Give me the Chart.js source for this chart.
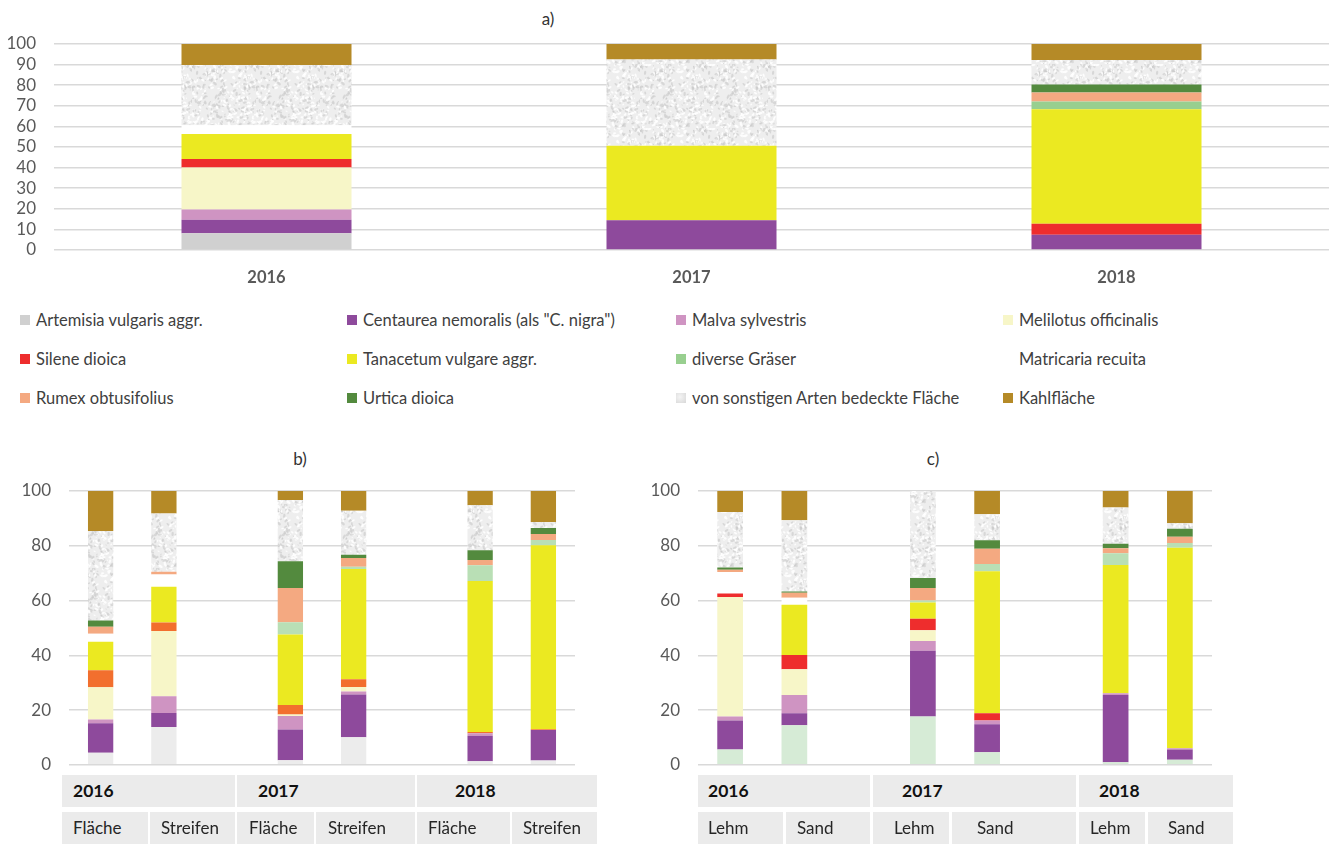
<!DOCTYPE html>
<html>
<head>
<meta charset="utf-8">
<script src="https://cdn.jsdelivr.net/npm/chart.js@4.4.1/dist/chart.umd.min.js"></script>
<style>
  body { margin: 0; background: #fff; font-family: Lato, "Open Sans", sans-serif; }
  #page { position: relative; width: 1336px; height: 845px; overflow: hidden; }
  canvas { position: absolute; }
  .title { position: absolute; font-size: 17px; color: #333; transform: translate(-50%, -50%); }
  .lm { position: absolute; width: 10px; height: 10px; }
  .lt { position: absolute; font-size: 16.5px; color: #404040; white-space: nowrap; transform: translateY(-50%); }
  .cell { position: absolute; background: #ebebeb; font-size: 17px; color: #262626; line-height: 32px; white-space: nowrap; box-sizing: border-box; }
  .cell.yr { font-weight: bold; color: #111; font-size: 17.5px; }
</style>
</head>
<body>
<div id="page">
  <div class="title" style="left:548px;top:18px">a)</div>
  <div class="title" style="left:300px;top:458px">b)</div>
  <div class="title" style="left:933px;top:458px">c)</div>
  <canvas id="chartA" width="1336" height="300" style="left:0;top:0"></canvas>
  <canvas id="chartB" width="620" height="353" style="left:0;top:440px"></canvas>
  <canvas id="chartC" width="716" height="353" style="left:620px;top:440px"></canvas>
  <div id="legend"></div>
  <div id="tables"></div>
</div>
<script>
// species, in stacking order (bottom -> top)
const species = [
  'Artemisia vulgaris aggr.', 'Centaurea nemoralis (als "C. nigra")', 'Malva sylvestris',
  'Melilotus officinalis', 'Silene dioica', 'Tanacetum vulgare aggr.', 'diverse Gräser',
  'Matricaria recuita', 'Rumex obtusifolius', 'Urtica dioica',
  'von sonstigen Arten bedeckte Fläche', 'Kahlfläche'
];

// a) years
const yearsA = ['2016', '2017', '2018'];
const a2016 = [8.1, 6.6, 4.9, 20.5, 4.1, 12.1, 0, 4.2, 0, 0, 29.3, 10.2];
const a2017 = [0, 14.4, 0, 0, 0, 36.2, 0, 0, 0, 0, 41.9, 7.5];
const a2018 = [0, 7.4, 0, 0, 5.4, 55.5, 3.8, 0, 4.3, 3.9, 11.9, 7.8];

// b) Fläche / Streifen
const yearsBC = ['2016', '2017', '2018'];
const subB = ['Fläche', 'Streifen'];
const b2016F = [4.4, 10.8, 1.3, 11.8, 6.2, 10.4, 0, 3.0, 2.5, 2.3, 32.7, 14.6];
const b2016S = [13.8, 5.1, 6.1, 23.9, 3.1, 13.0, 0, 4.5, 1.0, 0, 21.3, 8.2];
const b2017F = [1.7, 11.2, 4.9, 0.6, 3.4, 25.8, 4.5, 0, 12.5, 9.7, 22.4, 3.3];
const b2017S = [10.1, 15.6, 1.1, 1.6, 2.8, 40.3, 0.8, 0, 3.2, 1.2, 16.1, 7.2];
const b2018F = [1.3, 9.3, 0.9, 0, 0.5, 55.1, 5.8, 0, 1.9, 3.6, 16.4, 5.2];
const b2018S = [1.6, 11.1, 0, 0, 0.3, 67.2, 1.9, 0, 2.2, 2.2, 2.2, 11.3];

// c) Lehm / Sand
const subC = ['Lehm', 'Sand'];
const c2016L = [5.6, 10.6, 1.4, 43.7, 1.3, 0, 0, 7.8, 0.8, 0.9, 20.2, 7.7];
const c2016S = [14.4, 4.4, 6.7, 9.4, 5.2, 18.4, 0, 2.5, 1.8, 0.5, 26.0, 10.7];
const c2017L = [17.6, 24.1, 3.5, 3.9, 4.2, 6.0, 0.7, 0, 4.6, 3.6, 31.8, 0];
const c2017S = [4.6, 10.2, 1.4, 0, 2.6, 51.9, 2.6, 0, 5.6, 3.1, 9.5, 8.5];
const c2018L = [0.9, 24.6, 0.6, 0, 0, 46.9, 4.3, 0, 1.8, 1.6, 13.3, 6.0];
const c2018S = [1.8, 3.8, 0.4, 0, 0, 73.3, 1.7, 0, 2.3, 2.9, 2.0, 11.8];

// colours ('TEX' = speckled texture)
const colorsA = ['#d0d0d0', '#8e4a9c', '#cf94c2', '#f7f6c8', '#ee2d2d', '#ebe921', '#98cf8f',
  '#ffffff', '#f4a981', '#538a3e', 'TEX', '#b58a27'];
const colorsB = ['#ececec', '#8e4a9c', '#cf94c2', '#f7f6c8', '#f26f2e', '#ebe921', '#b9dfb5',
  '#ffffff', '#f4a981', '#538a3e', 'TEX', '#b58a27'];
const colorsC = ['#d6ebd6', '#8e4a9c', '#cf94c2', '#f7f6c8', '#ee2d2d', '#ebe921', '#b9dfb5',
  '#ffffff', '#f4a981', '#538a3e', 'TEX', '#b58a27'];

function texture(ctx) {
  const c = document.createElement('canvas');
  c.width = 64; c.height = 64;
  const g = c.getContext('2d');
  g.fillStyle = '#eeeeee';
  g.fillRect(0, 0, 64, 64);
  let s = 11;
  const next = () => { s = (s * 9301 + 49297) % 233280; return s / 233280; };
  for (let i = 0; i < 420; i++) {
    const x = next() * 64, y = next() * 64, r = 0.4 + next() * 0.9;
    g.fillStyle = next() < 0.5 ? 'rgba(200,200,200,0.6)' : 'rgba(255,255,255,0.85)';
    g.beginPath();
    g.ellipse(x, y, r, r * 1.8, next() * 3, 0, Math.PI * 2);
    g.fill();
  }
  return ctx.createPattern(c, 'repeat');
}

function datasets(ctx, bars, colors) {
  const tex = texture(ctx);
  return species.map((name, i) => ({
    label: name,
    data: bars.map(b => (b ? b[i] : null)),
    backgroundColor: colors[i] === 'TEX' ? tex : colors[i],
    borderWidth: 0,
    barPercentage: 0.4,
    categoryPercentage: 1
  }));
}

function options(step, yWidth, pad, xHeight) {
  return {
    responsive: false,
    animation: false,
    layout: { padding: pad },
    plugins: { legend: { display: false }, tooltip: { enabled: false } },
    scales: {
      x: {
        stacked: true,
        display: xHeight > 0,
        grid: { display: false, drawTicks: false },
        border: { display: false },
        ticks: { color: '#595959', padding: 18, font: { family: 'Lato', size: 16.5, weight: 'bold' } },
        afterFit: s => { s.height = xHeight; }
      },
      y: {
        stacked: true,
        min: 0, max: 100,
        grid: { color: '#d9d9d9', lineWidth: 1.5, drawTicks: false },
        border: { display: false },
        ticks: { stepSize: step, autoSkip: false, color: '#595959', padding: 18, font: { family: 'Lato', size: 17 } },
        afterFit: s => { s.width = yWidth; }
      }
    }
  };
}

// a)
const ctxA = document.getElementById('chartA').getContext('2d');
new Chart(ctxA, {
  type: 'bar',
  data: { labels: yearsA, datasets: datasets(ctxA, [a2016, a2017, a2018], colorsA) },
  options: options(10, 54, { top: 44, right: 7, left: 0, bottom: 0 }, 50)
});

// b)  slots: 2 bars per year, empty slot between years
const slotLabels = ['', '', '', '', '', '', '', ''];
const ctxB = document.getElementById('chartB').getContext('2d');
new Chart(ctxB, {
  type: 'bar',
  data: { labels: slotLabels, datasets: datasets(ctxB, [b2016F, b2016S, null, b2017F, b2017S, null, b2018F, b2018S], colorsB) },
  options: options(20, 69, { top: 51, right: 45, left: 0, bottom: 3 }, 0)
});

// c)
const ctxC = document.getElementById('chartC').getContext('2d');
new Chart(ctxC, {
  type: 'bar',
  data: { labels: slotLabels, datasets: datasets(ctxC, [c2016L, c2016S, null, c2017L, c2017S, null, c2018L, c2018S], colorsC) },
  options: options(20, 78, { top: 51, right: 124, left: 0, bottom: 3 }, 0)
});

// legend (4 columns x 3 rows)
const legCols = [20, 347, 676, 1003];
const legRows = [320, 359, 398];
const legend = document.getElementById('legend');
species.forEach((name, i) => {
  const x = legCols[i % 4], y = legRows[Math.floor(i / 4)];
  const m = document.createElement('div');
  m.className = 'lm';
  m.style.left = x + 'px';
  m.style.top = (y - 5) + 'px';
  if (colorsA[i] === 'TEX') {
    m.style.background = 'radial-gradient(circle at 40% 40%, #f4f4f4, #d8d8d8)';
  } else {
    m.style.background = colorsA[i];
  }
  legend.appendChild(m);
  const t = document.createElement('div');
  t.className = 'lt';
  t.style.left = (x + 16) + 'px';
  t.style.top = y + 'px';
  t.textContent = name;
  legend.appendChild(t);
});

// category tables under b) and c)
const tables = document.getElementById('tables');
function cell(x1, x2, y, text, pl, cls) {
  const d = document.createElement('div');
  d.className = 'cell' + (cls ? ' ' + cls : '');
  d.style.left = x1 + 'px';
  d.style.width = (x2 - x1) + 'px';
  d.style.top = y + 'px';
  d.style.height = '32px';
  d.style.paddingLeft = pl + 'px';
  d.textContent = text;
  tables.appendChild(d);
}
const yrEdgesB = [[62, 235, 11], [237, 415, 21], [417, 597, 38]];
const subEdgesB = [[62, 148, 11], [150, 235, 11], [237, 314, 12], [316, 415, 12], [417, 510, 11], [512, 597, 11]];
const yrEdgesC = [[698, 870, 10], [873, 1076, 29], [1079, 1233, 20]];
const subEdgesC = [[698, 783, 10], [786, 870, 11], [873, 949, 21], [952, 1076, 25], [1079, 1145, 11], [1148, 1233, 20]];
yearsBC.forEach((yr, i) => {
  cell(yrEdgesB[i][0], yrEdgesB[i][1], 775, yr, yrEdgesB[i][2], 'yr');
  cell(yrEdgesC[i][0], yrEdgesC[i][1], 775, yr, yrEdgesC[i][2], 'yr');
});
subEdgesB.forEach((e, i) => cell(e[0], e[1], 812, subB[i % 2], e[2]));
subEdgesC.forEach((e, i) => cell(e[0], e[1], 812, subC[i % 2], e[2]));
</script>
</body>
</html>
